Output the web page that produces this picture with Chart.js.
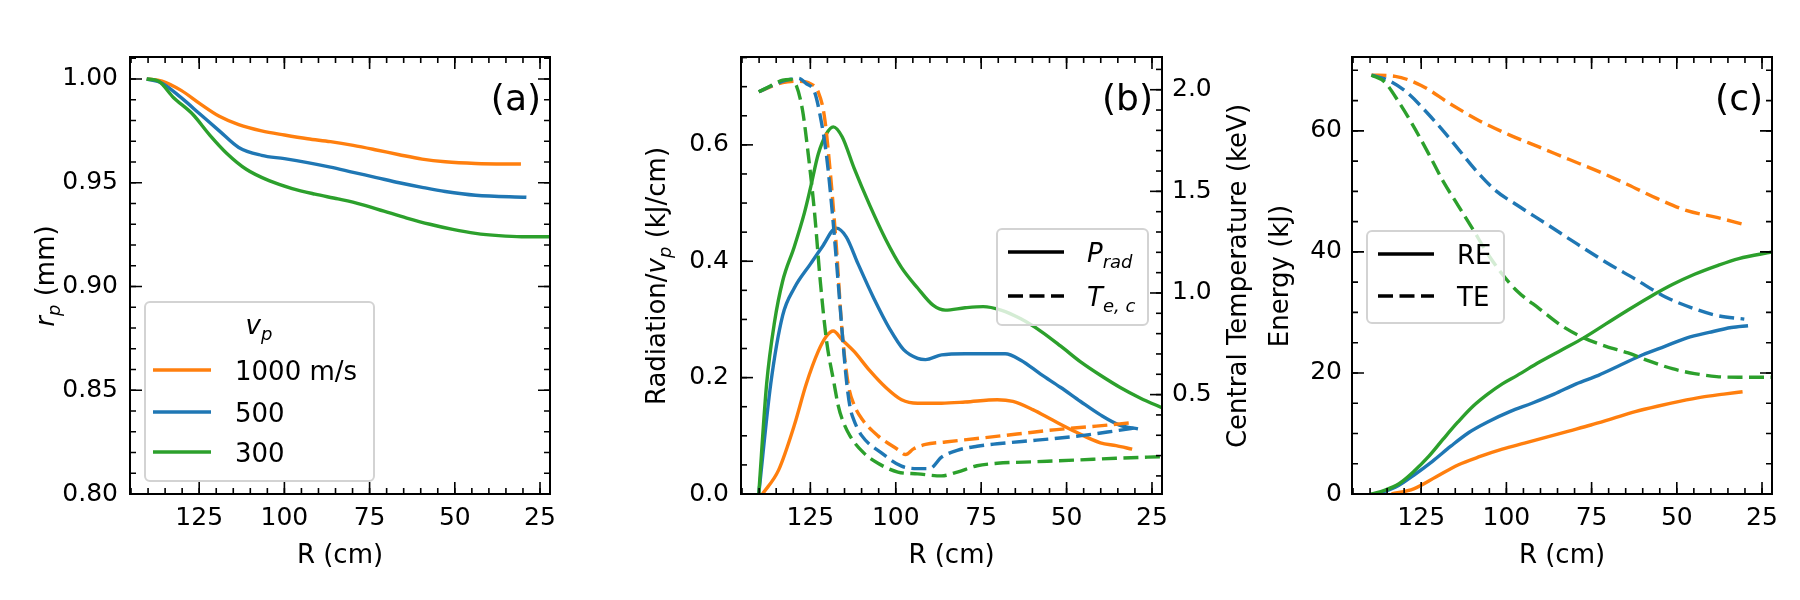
<!DOCTYPE html>
<html>
<head>
<meta charset="utf-8">
<script src="https://cdn.jsdelivr.net/npm/chart.js@4.4.1/dist/chart.umd.min.js"></script>
<style>
  html, body { margin: 0; padding: 0; background: #fff; }
  #quadro { position: relative; width: 1800px; height: 600px; }
  #quadro canvas { position: absolute; left: 0; top: 0; }
</style>
</head>
<body>
<div id="quadro">
  <canvas id="graficoA" width="1800" height="600"></canvas>
  <canvas id="graficoB" width="1800" height="600"></canvas>
  <canvas id="graficoC" width="1800" height="600"></canvas>
</div>
<script>
// ---- dados ----
const xTicks = [125, 100, 75, 50, 25]
const xRotulos = ['125', '100', '75', '50', '25']

// (a) raio do pellet r_p (mm)
const aYTicks = [0.80, 0.85, 0.90, 0.95, 1.00]
const aYRotulos = ['0.80', '0.85', '0.90', '0.95', '1.00']
const aR1000 = [140.4, 135.9, 130.3, 124.7, 119.1, 113.4, 106.7, 100, 93.2, 86.5, 79.8, 73.0, 66.3, 59.6, 52.8, 43.9, 30.6]
const aRp1000 = [1.000, 0.999, 0.9945, 0.988, 0.982, 0.978, 0.975, 0.973, 0.9712, 0.9698, 0.968, 0.9658, 0.9635, 0.9614, 0.9601, 0.9593, 0.959]
const aR500 = [140.4, 135.9, 130.3, 124.7, 119.1, 113.4, 106.7, 100, 93.2, 86.5, 79.8, 73.0, 66.3, 59.6, 52.8, 43.9, 29.0]
const aRp500 = [1.000, 0.998, 0.991, 0.983, 0.975, 0.967, 0.9632, 0.9616, 0.9597, 0.9575, 0.955, 0.9525, 0.950, 0.9478, 0.9458, 0.944, 0.943]
const aR300 = [140.4, 137, 132.5, 126.9, 121.9, 116.8, 111.2, 104.5, 97.7, 91.0, 84.3, 77.5, 70.8, 64.1, 57.3, 50.6, 43.9, 37.1, 30.4, 22.0]
const aRp300 = [1.000, 0.999, 0.991, 0.983, 0.973, 0.964, 0.9565, 0.951, 0.9472, 0.9445, 0.9422, 0.9396, 0.9363, 0.933, 0.930, 0.9275, 0.9256, 0.9245, 0.924, 0.924]

// (b) radiacao / v_p (kJ/cm) e temperatura central (keV)
const bYTicks = [0.0, 0.2, 0.4, 0.6]
const bYRotulos = ['0.0', '0.2', '0.4', '0.6']
const bY1Ticks = [0.5, 1.0, 1.5, 2.0]
const bY1Rotulos = ['0.5', '1.0', '1.5', '2.0']
const bR1000 = [139, 134.3, 129.7, 126.2, 122.7, 120.3, 118.3, 115.7, 112.2, 107.6, 102.9, 98.3, 93.6, 86.6, 79.7, 70.3, 65.7, 59.9, 54.1, 47.1, 40.1, 35.5, 30.8]
const bRad1000 = [0, 0.041, 0.118, 0.189, 0.245, 0.271, 0.280, 0.265, 0.245, 0.212, 0.183, 0.162, 0.156, 0.156, 0.158, 0.162, 0.159, 0.145, 0.127, 0.106, 0.088, 0.083, 0.077]
const bR500 = [140.1, 136.6, 133.1, 129.7, 125, 121.5, 117.4, 114.5, 111.0, 106.4, 101.7, 97.7, 93.6, 91.3, 86.6, 79.7, 73.8, 68.0, 63.4, 57.6, 51.7, 45.9, 40.1, 34.3, 29.1]
const bRad500 = [0, 0.189, 0.307, 0.354, 0.395, 0.425, 0.457, 0.442, 0.395, 0.336, 0.283, 0.248, 0.233, 0.231, 0.239, 0.241, 0.241, 0.241, 0.230, 0.206, 0.183, 0.159, 0.136, 0.118, 0.112]
const bR300 = [140.1, 137.8, 135.5, 133.1, 129.7, 126.7, 125, 122.7, 120.3, 118.3, 115.7, 112.2, 107.6, 102.9, 98.3, 93.6, 89.0, 85.5, 79.7, 74.4, 69.2, 63.4, 57.6, 51.7, 45.9, 40.1, 34.3, 28.5, 21.6]
const bRad300 = [0, 0.189, 0.295, 0.366, 0.425, 0.484, 0.525, 0.584, 0.619, 0.631, 0.614, 0.56, 0.496, 0.437, 0.389, 0.354, 0.324, 0.316, 0.32, 0.322, 0.316, 0.301, 0.28, 0.254, 0.227, 0.204, 0.183, 0.165, 0.147]
const bRT1000 = [140.1, 133.1, 128.5, 125, 122.7, 120.9, 119.2, 117.4, 115.7, 113.9, 112.2, 109.9, 105.2, 99.4, 97.1, 94.8, 91.3, 85.5, 76.2, 64.5, 52.9, 41.3, 30.8]
const bTe1000 = [1.99, 2.035, 2.042, 2.03, 1.99, 1.87, 1.60, 1.23, 0.81, 0.55, 0.45, 0.38, 0.297, 0.23, 0.205, 0.233, 0.255, 0.267, 0.284, 0.306, 0.328, 0.345, 0.362]
const bRT500 = [140.1, 135.5, 132, 128.5, 126.2, 123.8, 122.1, 120.3, 118.6, 116.9, 115.7, 114.5, 113.4, 112.2, 109.9, 104.1, 98.3, 93.6, 90.1, 86.6, 82.0, 76.2, 70.3, 58.7, 47.1, 35.5, 29.1]
const bTe500 = [1.99, 2.025, 2.047, 2.056, 2.03, 1.99, 1.87, 1.68, 1.40, 1.06, 0.81, 0.58, 0.44, 0.372, 0.297, 0.212, 0.148, 0.136, 0.136, 0.192, 0.226, 0.246, 0.258, 0.276, 0.295, 0.322, 0.338]
const bRT300 = [140.1, 136.6, 133.1, 130.8, 129.1, 127.3, 125.6, 123.8, 122.1, 120.3, 118.0, 116.9, 115.7, 113.4, 109.3, 105.2, 99.4, 93.6, 86.6, 82.0, 76.2, 70.3, 58.7, 47.1, 35.5, 21.6]
const bTe300 = [1.99, 2.02, 2.047, 2.05, 2.02, 1.90, 1.68, 1.40, 1.06, 0.77, 0.55, 0.45, 0.38, 0.297, 0.212, 0.162, 0.119, 0.11, 0.10, 0.119, 0.15, 0.162, 0.17, 0.178, 0.187, 0.195]

// (c) energia (kJ): RE cheio, TE tracejado
const cYTicks = [0, 20, 40, 60]
const cYRotulos = ['0', '20', '40', '60']
const cRE_R1000 = [133.7, 127.2, 120.7, 114.2, 107.7, 101.2, 94.7, 88.2, 81.7, 75.2, 68.7, 62.2, 55.7, 49.2, 42.7, 36.2, 30.7]
const cRE1000 = [0, 0.85, 2.8, 4.8, 6.2, 7.4, 8.4, 9.4, 10.4, 11.4, 12.5, 13.6, 14.5, 15.3, 16.0, 16.5, 16.9]
const cRE_R500 = [138, 132.6, 127.2, 121.7, 116.3, 110.9, 105.5, 99, 92.5, 86.0, 79.5, 73.0, 66.5, 60.0, 53.5, 47.0, 40.5, 34.0, 29.1]
const cRE500 = [0, 1.1, 3.1, 5.4, 7.9, 10.2, 11.9, 13.6, 15.0, 16.5, 18.2, 19.6, 21.3, 23.0, 24.4, 25.8, 26.7, 27.5, 27.8]
const cRE_R300 = [139.6, 135.8, 131.5, 127.2, 122.8, 118.5, 114.2, 109.8, 105.5, 101.2, 96.8, 90.3, 83.8, 77.3, 70.8, 64.3, 57.8, 51.3, 44.8, 38.3, 31.8, 22.0]
const cRE300 = [0, 0.6, 1.7, 3.7, 6.2, 9.1, 11.9, 14.5, 16.5, 18.2, 19.6, 21.8, 23.8, 25.8, 28.1, 30.4, 32.6, 34.6, 36.3, 37.7, 38.9, 40.0]
const cTE_R1000 = [139.6, 132.6, 125, 116.3, 107.7, 99, 90.3, 81.7, 73.0, 64.3, 55.7, 47.0, 38.3, 30.7]
const cTE1000 = [69.2, 69.0, 67.5, 64.4, 61.6, 59.3, 57.3, 55.3, 53.3, 51.1, 48.8, 46.8, 45.7, 44.6]
const cTE_R500 = [139.6, 134.8, 129.3, 122.8, 116.3, 108.7, 103.3, 96.8, 88.2, 79.5, 70.8, 62.2, 53.5, 44.8, 38.3, 30.2]
const cTE500 = [69.2, 68.4, 66.4, 62.7, 58.5, 53.3, 50.2, 47.7, 44.6, 41.4, 38.3, 35.5, 32.6, 30.6, 29.5, 28.9]
const cTE_R300 = [139.6, 135.8, 131.5, 127.2, 122.8, 118.5, 114.2, 109.8, 105.5, 101.2, 96.8, 90.3, 83.8, 77.3, 70.8, 64.3, 57.8, 51.3, 44.8, 38.3, 31.8, 22.0]
const cTE300 = [69.2, 68.1, 64.7, 60.7, 56.2, 51.6, 47.7, 43.7, 39.7, 36.3, 33.5, 30.6, 27.8, 25.8, 24.4, 23.3, 21.9, 20.7, 19.9, 19.4, 19.3, 19.3]

// ---- estilo ----
const FONTE = 'DejaVu Sans'
const laranja = '#ff7f0e'
const azul = '#1f77b4'
const verde = '#2ca02c'
const tracejado = [15, 6.5]
const espessura = 3.4

function pontos(xs, ys) {
    return xs.map((x, i) => ({ x: x, y: ys[i] }))
}

function serie(xs, ys, cor, tracos, ordem, eixoY) {
    return {
        data: pontos(xs, ys),
        borderColor: cor,
        borderWidth: espessura,
        borderDash: tracos ? tracejado : [],
        pointRadius: 0,
        fill: false,
        order: ordem,
        yAxisID: eixoY || 'y'
    }
}

function fontePara(estilo, tam) {
    if (estilo === 'i') return 'italic ' + tam + 'px "' + FONTE + '"'
    if (estilo === 's') return 'italic ' + Math.round(tam * 0.7) + 'px "' + FONTE + '"'
    return tam + 'px "' + FONTE + '"'
}

// escreve texto com partes em italico / subscrito (tipo mathtext)
function textoMat(ctx, partes, x, y, tam, alinha) {
    let largura = 0
    const medidas = partes.map(([t, e]) => {
        ctx.font = fontePara(e, tam)
        const w = ctx.measureText(t).width
        largura += w
        return w
    })
    let cx = x
    if (alinha === 'center') cx = x - largura / 2
    if (alinha === 'right') cx = x - largura
    ctx.textAlign = 'left'
    ctx.textBaseline = 'alphabetic'
    partes.forEach(([t, e], i) => {
        ctx.font = fontePara(e, tam)
        ctx.fillText(t, cx, e === 's' ? y + tam * 0.24 : y)
        cx += medidas[i]
    })
}

function menores(escala, passo) {
    const vals = []
    const ini = Math.ceil(escala.min / passo - 1e-6)
    const fim = Math.floor(escala.max / passo + 1e-6)
    for (let k = ini; k <= fim; k++) vals.push(k * passo)
    return vals
}

function marcas(ctx, escala, valores, tam, area, lados) {
    valores.forEach(v => {
        const p = escala.getPixelForValue(v)
        ctx.beginPath()
        if (escala.isHorizontal()) {
            if (p < area.left - 0.5 || p > area.right + 0.5) return
            if (lados.includes('b')) { ctx.moveTo(p, area.bottom); ctx.lineTo(p, area.bottom - tam) }
            if (lados.includes('t')) { ctx.moveTo(p, area.top); ctx.lineTo(p, area.top + tam) }
        } else {
            if (p < area.top - 0.5 || p > area.bottom + 0.5) return
            if (lados.includes('l')) { ctx.moveTo(area.left, p); ctx.lineTo(area.left + tam, p) }
            if (lados.includes('r')) { ctx.moveTo(area.right, p); ctx.lineTo(area.right - tam, p) }
        }
        ctx.stroke()
    })
}

const decoracao = {
    id: 'decoracao',
    afterDatasetsDraw(chart, args, op) {
        const ctx = chart.ctx
        const area = chart.chartArea
        ctx.save()
        ctx.strokeStyle = '#000'
        ctx.fillStyle = '#000'
        ctx.lineWidth = 1.6

        // marcas para dentro nos quatro lados
        const sx = chart.scales.x
        marcas(ctx, sx, menores(sx, op.xMenor), 6, area, 'bt')
        marcas(ctx, sx, xTicks, 12, area, 'bt')
        const sy = chart.scales.y
        const ladosY = chart.scales.y1 ? 'l' : 'lr'
        marcas(ctx, sy, menores(sy, op.yMenor), 6, area, ladosY)
        marcas(ctx, sy, op.yMaior, 12, area, ladosY)
        if (chart.scales.y1) {
            const s1 = chart.scales.y1
            marcas(ctx, s1, menores(s1, op.y1Menor), 6, area, 'r')
            marcas(ctx, s1, op.y1Maior, 12, area, 'r')
        }

        // moldura
        ctx.lineWidth = 2
        ctx.strokeRect(area.left, area.top, area.right - area.left, area.bottom - area.top)

        // legenda
        const lg = op.legenda
        const [x0, y0, x1, y1] = lg.caixa
        ctx.beginPath()
        ctx.roundRect(x0, y0, x1 - x0, y1 - y0, 5)
        ctx.fillStyle = 'rgba(255,255,255,0.8)'
        ctx.fill()
        ctx.strokeStyle = '#d3d3d3'
        ctx.lineWidth = 2
        ctx.stroke()
        ctx.fillStyle = '#000'
        if (lg.titulo) textoMat(ctx, lg.titulo.partes, lg.titulo.x, lg.titulo.y, 26, 'center')
        lg.itens.forEach(it => {
            ctx.beginPath()
            ctx.strokeStyle = it.cor
            ctx.lineWidth = espessura
            ctx.setLineDash(it.tracos ? tracejado : [])
            ctx.moveTo(lg.linhaX[0], it.y)
            ctx.lineTo(lg.linhaX[1], it.y)
            ctx.stroke()
            ctx.setLineDash([])
            textoMat(ctx, it.partes, lg.textoX, it.y + 9.5, 26, 'left')
        })

        // titulos dos eixos
        ctx.fillStyle = '#000'
        op.titulos.forEach(t => {
            if (t.rot) {
                ctx.save()
                ctx.translate(t.x, t.y)
                ctx.rotate(-Math.PI / 2)
                textoMat(ctx, t.partes, 0, 26 * 0.35, 26, 'center')
                ctx.restore()
            } else {
                textoMat(ctx, t.partes, t.x, t.y, 26, 'center')
            }
        })

        // rotulo do painel
        ctx.font = '36px "' + FONTE + '"'
        ctx.textAlign = 'right'
        ctx.textBaseline = 'alphabetic'
        ctx.fillText(op.painel, area.right - 9, 110)
        ctx.restore()
    }
}

function eixoX() {
    return {
        type: 'linear', reverse: true, min: 22.07, max: 145.3,
        afterBuildTicks: s => { s.ticks = xTicks.map(v => ({ value: v })) },
        afterFit: s => { s.height = 80 },
        grid: { display: false, drawTicks: false },
        border: { display: false },
        ticks: { callback: (v, i) => xRotulos[i], font: { family: FONTE, size: 25 }, color: '#000', padding: 9, maxRotation: 0, autoSkip: false }
    }
}

function eixoY(min, max, valores, rotulos, posicao, largura, pad) {
    return {
        type: 'linear', position: posicao, min: min, max: max,
        afterBuildTicks: s => { s.ticks = valores.map(v => ({ value: v })) },
        afterFit: s => { s.width = largura },
        grid: { display: false, drawTicks: false, drawOnChartArea: false },
        border: { display: false },
        ticks: { callback: (v, i) => rotulos[i], font: { family: FONTE, size: 25 }, color: '#000', padding: pad, autoSkip: false }
    }
}

function criaGrafico(id, conjuntos, escalas, padding, deco) {
    return new Chart(document.getElementById(id), {
        type: 'line',
        data: { datasets: conjuntos },
        options: {
            responsive: false,
            animation: false,
            events: [],
            layout: { padding: padding },
            elements: { line: { cubicInterpolationMode: 'monotone' } },
            plugins: { legend: { display: false }, tooltip: { enabled: false }, decoracao: deco },
            scales: escalas
        },
        plugins: [decoracao]
    })
}

const graficoA = criaGrafico('graficoA', [
    serie(aR1000, aRp1000, laranja, false, 3),
    serie(aR500, aRp500, azul, false, 2),
    serie(aR300, aRp300, verde, false, 1)
], {
    x: eixoX(),
    y: eixoY(0.8, 1.0106, aYTicks, aYRotulos, 'left', 100, 12)
}, { left: 30, right: 1250, top: 57, bottom: 26 }, {
    xMenor: 5, yMenor: 0.01, yMaior: aYTicks, painel: '(a)',
    legenda: {
        caixa: [145, 302, 374, 481],
        titulo: { partes: [['v', 'i'], ['p', 's']], x: 259, y: 334 },
        linhaX: [153, 211], textoX: 235,
        itens: [
            { cor: laranja, y: 370, partes: [['1000 m/s', '']] },
            { cor: azul, y: 412, partes: [['500', '']] },
            { cor: verde, y: 452, partes: [['300', '']] }
        ]
    },
    titulos: [
        { partes: [['R (cm)', '']], x: 340, y: 563 },
        { partes: [['r', 'i'], ['p', 's'], [' (mm)', '']], x: 44.5, y: 276, rot: true }
    ]
})

const graficoB = criaGrafico('graficoB', [
    serie(bR1000, bRad1000, laranja, false, 5),
    serie(bR500, bRad500, azul, false, 4),
    serie(bR300, bRad300, verde, false, 3),
    serie(bRT1000, bTe1000, laranja, true, 2, 'y1'),
    serie(bRT500, bTe500, azul, true, 1, 'y1'),
    serie(bRT300, bTe300, verde, true, 0, 'y1')
], {
    x: eixoX(),
    y: eixoY(0, 0.751, bYTicks, bYRotulos, 'left', 100, 12),
    y1: eixoY(0.011, 2.161, bY1Ticks, bY1Rotulos, 'right', 60, 10)
}, { left: 641, right: 578, top: 57, bottom: 26 }, {
    xMenor: 5, yMenor: 0.05, yMaior: bYTicks, y1Menor: 0.1, y1Maior: bY1Ticks, painel: '(b)',
    legenda: {
        caixa: [997, 229, 1148, 325],
        linhaX: [1008, 1064], textoX: 1087,
        itens: [
            { cor: '#000', y: 252, partes: [['P', 'i'], ['rad', 's']] },
            { cor: '#000', tracos: true, y: 296, partes: [['T', 'i'], ['e, c', 's']] }
        ]
    },
    titulos: [
        { partes: [['R (cm)', '']], x: 951.5, y: 563 },
        { partes: [['Radiation/', ''], ['v', 'i'], ['p', 's'], [' (kJ/cm)', '']], x: 655.5, y: 276, rot: true },
        { partes: [['Central Temperature (keV)', '']], x: 1236.5, y: 276, rot: true }
    ]
})

const graficoC = criaGrafico('graficoC', [
    serie(cRE_R1000, cRE1000, laranja, false, 5),
    serie(cTE_R1000, cTE1000, laranja, true, 4),
    serie(cRE_R500, cRE500, azul, false, 3),
    serie(cTE_R500, cTE500, azul, true, 2),
    serie(cRE_R300, cRE300, verde, false, 1),
    serie(cTE_R300, cTE300, verde, true, 0)
], {
    x: eixoX(),
    y: eixoY(0, 72.2, cYTicks, cYRotulos, 'left', 100, 10)
}, { left: 1252, right: 28, top: 57, bottom: 26 }, {
    xMenor: 5, yMenor: 5, yMaior: cYTicks, painel: '(c)',
    legenda: {
        caixa: [1367, 231, 1504, 323],
        linhaX: [1378, 1434], textoX: 1457,
        itens: [
            { cor: '#000', y: 254, partes: [['RE', '']] },
            { cor: '#000', tracos: true, y: 296, partes: [['TE', '']] }
        ]
    },
    titulos: [
        { partes: [['R (cm)', '']], x: 1562, y: 563 },
        { partes: [['Energy (kJ)', '']], x: 1278.5, y: 276, rot: true }
    ]
})
</script>
</body>
</html>
